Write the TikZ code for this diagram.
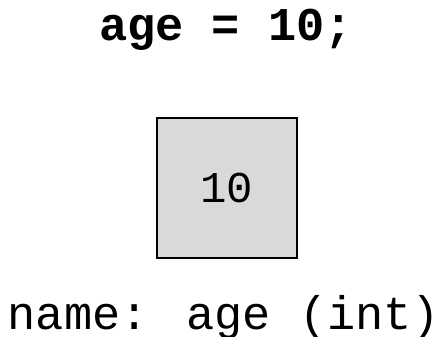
\documentclass[tikz,border=0pt]{standalone}
\usepackage{fontspec}
\newfontfamily\codefont{Liberation Mono}
\definecolor{cellgray}{RGB}{217,217,217}
\begin{document}
\begin{tikzpicture}[x=1pt, y=-1pt]
	\useasboundingbox (0,0) rectangle (440,337);
	\node[anchor=base, inner sep=0pt, font=\codefont\bfseries\fontsize{47}{50}\selectfont] (stmt) at (226,41) {age = 10;};
	\node[draw, line width=2.5pt, fill=cellgray, minimum size=140pt, inner sep=0pt, font=\codefont\fontsize{44}{48}\selectfont] (var) at (227,188) {10};
	\node[anchor=base, inner sep=0pt, font=\codefont\fontsize{47}{50}\selectfont] (label) at (224,329) {name: age (int)};
\end{tikzpicture}
\end{document}
